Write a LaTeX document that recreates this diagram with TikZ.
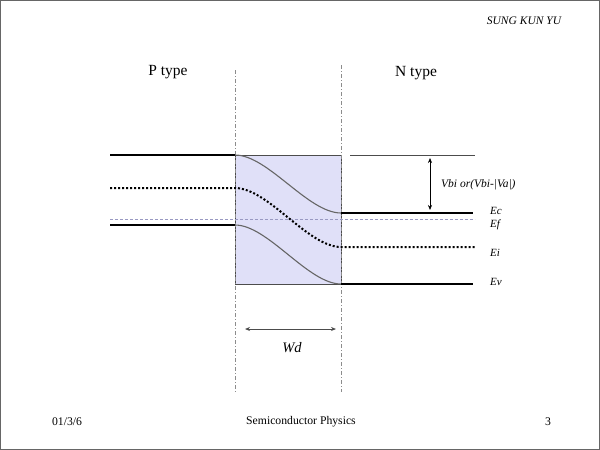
\documentclass[tikz,border=0pt]{standalone}
\usepackage{fontspec}
\setmainfont{Liberation Serif}
\usetikzlibrary{arrows.meta}
\begin{document}
\begin{tikzpicture}[x=1pt,y=-1pt,
  band/.style={line width=1.4pt,black},
  bandcurve/.style={line width=1.1pt,black!60},
  dotband/.style={line width=2pt,black,dash pattern=on 2pt off 2pt},
  guide/.style={black!45,line width=0.5pt,dash pattern=on 4pt off 2pt on 1pt off 2pt},
  lbl/.style={font=\itshape\fontsize{11}{12}\selectfont,anchor=west,inner sep=0pt},
  ttl/.style={font=\fontsize{15.5}{18}\selectfont,inner sep=0pt},
  foot/.style={font=\fontsize{11.7}{14}\selectfont,inner sep=0pt}]
\useasboundingbox (0,0) rectangle (600,450);
\draw[black!60,line width=0.8pt] (0.5,0.5) rectangle (599.5,449.5);
% depletion box
\node[draw=black!70,fill={rgb,255:red,224;green,224;blue,248},line width=0.6pt,minimum width=106pt,minimum height=129pt,inner sep=0pt,anchor=north west] (box) at (235,155) {};
% guides
\coordinate (g1t) at (235,70); \coordinate (g1b) at (235,392);
\coordinate (g2t) at (341,65); \coordinate (g2b) at (341,392);
\draw[guide] (g1t) -- (g1b);
\draw[guide] (g2t) -- (g2b);
% Ef
\coordinate (efl) at (110,219); \coordinate (efr) at (475,219);
\draw[blue!40!black!40,dash pattern=on 3pt off 2pt,line width=0.6pt] (efl) -- (efr);
% Ec
\coordinate (ecl) at (110,155); \coordinate (ec1) at (235,155);
\coordinate (ec2) at (341,213); \coordinate (ecr) at (473,213);
\draw[band] (ecl) -- (ec1);
\draw[bandcurve] (ec1) .. controls (268,155) and (308,213) .. (ec2);
\draw[band] (ec2) -- (ecr);
% Ei
\coordinate (eil) at (110,188); \coordinate (ei1) at (235,188);
\coordinate (ei2) at (341,247); \coordinate (eir) at (475,247);
\draw[dotband] (eil) -- (ei1) .. controls (268,188) and (308,247) .. (ei2) -- (eir);
% Ev
\coordinate (evl) at (110,225); \coordinate (ev1) at (235,225);
\coordinate (ev2) at (341,284); \coordinate (evr) at (473,284);
\draw[band] (evl) -- (ev1);
\draw[bandcurve] (ev1) .. controls (268,225) and (308,284) .. (ev2);
\draw[band] (ev2) -- (evr);
% reference line
\coordinate (refl) at (350,155); \coordinate (refr) at (475,155);
\draw[black!70,line width=0.8pt] (refl) -- (refr);
% Vbi arrow
\coordinate (va) at (430,158); \coordinate (vb) at (430,210);
\draw[{Stealth[length=5pt,width=4pt]}-{Stealth[length=5pt,width=4pt]},line width=0.6pt] (va) -- (vb);
\node[lbl,font=\itshape\fontsize{11.5}{12}\selectfont] (vbi) at (441,185) {Vbi or(Vbi-|Va|)};
\node[lbl] (eclab) at (490,211) {Ec};
\node[lbl] (eflab) at (490,225) {Ef};
\node[lbl] (eilab) at (490,253) {Ei};
\node[lbl] (evlab) at (490,282) {Ev};
% Wd arrow
\coordinate (wa) at (245,329); \coordinate (wb) at (336,329);
\draw[{Stealth[length=5pt,width=4pt]}-{Stealth[length=5pt,width=4pt]},line width=1pt,black!70] (wa) -- (wb);
\node[font=\itshape\fontsize{14.5}{16}\selectfont,inner sep=0pt] (wd) at (292,348) {Wd};
% titles
\node[ttl] (pt) at (168,72) {P type};
\node[ttl] (nt) at (416,73) {N type};
\node[font=\itshape\fontsize{11.5}{13}\selectfont,inner sep=0pt] (au) at (524,21) {SUNG KUN YU};
\node[foot] (d) at (67,422) {01/3/6};
\node[foot] (sp) at (301,422) {Semiconductor Physics};
\node[foot] (pg) at (548,422) {3};
\end{tikzpicture}
\end{document}
